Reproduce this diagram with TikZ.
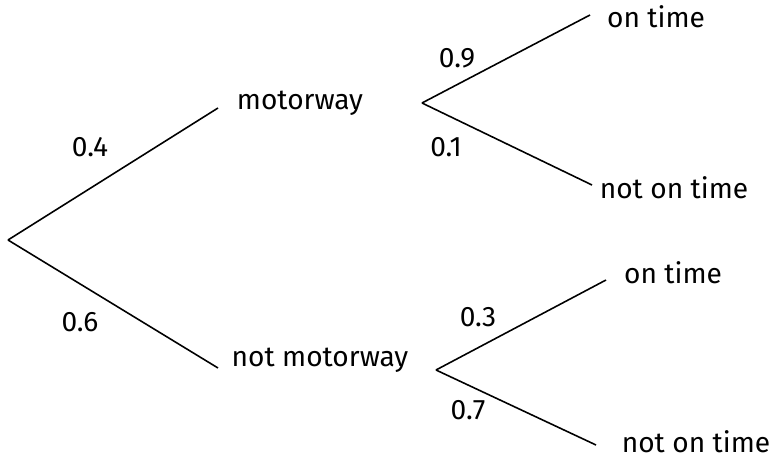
\documentclass[tikz,border=0pt]{standalone}
\usepackage{fontspec}
\setmainfont{Fira Sans}
\usetikzlibrary{positioning}

\begin{document}
\begin{tikzpicture}[line width=0.9pt, every node/.style={font=\fontsize{16}{19}\selectfont}]
    \useasboundingbox (0,0) rectangle (15.64,9.18);

    % === Branch points ===
    \coordinate (root) at (0.16,4.38);
    \coordinate (mwin) at (4.36,7.02);
    \coordinate (mwout) at (8.44,7.12);
    \coordinate (nmwin) at (4.36,1.82);
    \coordinate (nmwout) at (8.72,1.78);
    \coordinate (mwon) at (11.8,8.88);
    \coordinate (mwoff) at (11.84,5.48);
    \coordinate (nmwon) at (12.12,3.58);
    \coordinate (nmwoff) at (11.92,0.28);

    % === Outcomes ===
    \node (mw) at (6.0,7.12) {motorway};
    \node (nmw) at (6.4,1.98) {not motorway};
    \node (t1) at (13.12,8.84) {on time};
    \node (l1) at (13.48,5.42) {not on time};
    \node (t2) at (13.46,3.72) {on time};
    \node (l2) at (13.92,0.34) {not on time};

    % === Branches ===
    \draw (root) -- (mwin);
    \draw (root) -- (nmwin);
    \draw (mwout) -- (mwon);
    \draw (mwout) -- (mwoff);
    \draw (nmwout) -- (nmwon);
    \draw (nmwout) -- (nmwoff);

    % === Probabilities ===
    \node at (1.8,6.24) {0.4};
    \node at (1.6,2.74) {0.6};
    \node at (9.14,8.02) {0.9};
    \node at (8.92,6.24) {0.1};
    \node at (9.56,2.84) {0.3};
    \node at (9.36,0.98) {0.7};
\end{tikzpicture}
\end{document}
